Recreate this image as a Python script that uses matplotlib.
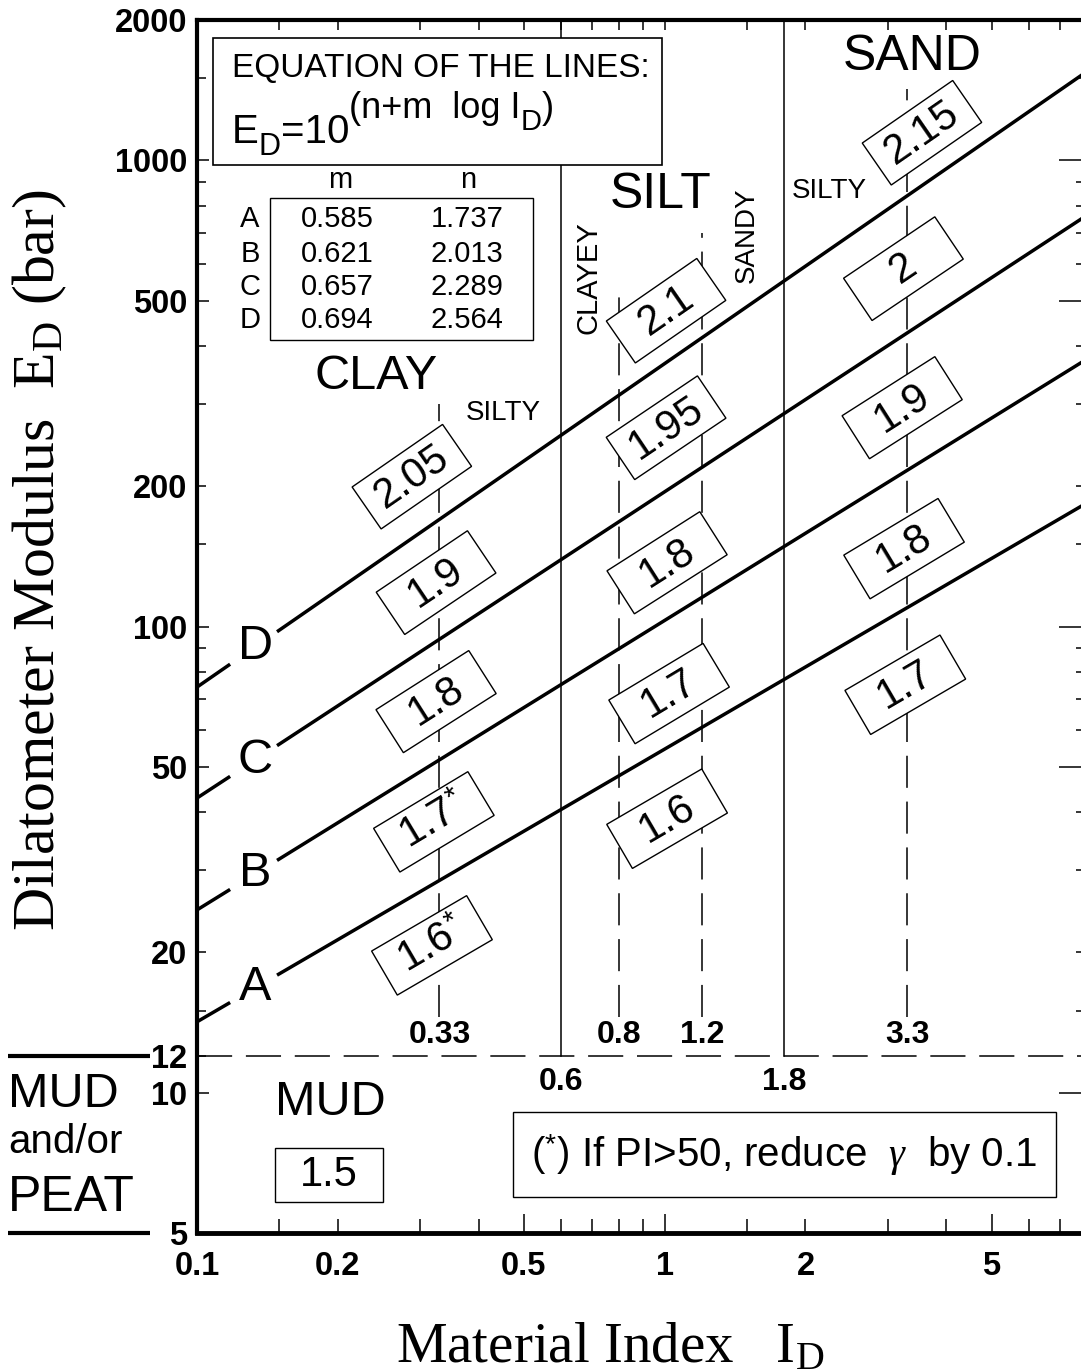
import numpy as np
import matplotlib
matplotlib.use('Agg')
import matplotlib.pyplot as plt
from matplotlib import transforms
from matplotlib.patches import Rectangle
from matplotlib.lines import Line2D

plt.rcParams['font.family'] = ['Liberation Sans', 'DejaVu Sans']
plt.rcParams['mathtext.fontset'] = 'custom'
plt.rcParams['mathtext.rm'] = 'Liberation Sans'
plt.rcParams['mathtext.it'] = 'Liberation Serif:italic'
plt.rcParams['mathtext.bf'] = 'Liberation Sans:bold'

# ---------------- data ----------------
line_names = ['A', 'B', 'C', 'D']
m_coef = [0.585, 0.621, 0.657, 0.694]
n_coef = [1.737, 2.013, 2.289, 2.564]

x_limits = (0.1, 8.0)
y_limits = (5, 2000)
x_major_ticks = [0.1, 0.5, 1, 5]
x_major_labels = ['0.1', '0.5', '1', '5']
x_minor_ticks = [0.15, 0.2, 0.3, 0.4, 0.6, 0.7, 0.8, 0.9, 1.5, 2, 3, 4, 6, 7]
x_minor_labels = ['', '0.2', '', '', '', '', '', '', '', '2', '', '', '', '']
y_major_ticks = [5, 10, 50, 100, 500, 1000]
y_major_labels = ['5', '10', '50', '100', '500', '1000']
y_minor_ticks = [12, 15, 20, 30, 40, 60, 70, 80, 90, 150, 200, 300, 400,
                 600, 700, 800, 900, 1500, 2000]
y_minor_labels = ['12', '', '20', '', '', '', '', '', '', '', '200', '', '',
                  '', '', '', '', '', '2000']

bounds_solid = [0.6, 1.8]
bounds_solid_labels = ['0.6', '1.8']
bounds_dashed = [0.33, 0.8, 1.2, 3.3]
bounds_dashed_labels = ['0.33', '0.8', '1.2', '3.3']
bounds_dashed_top = [300, 540, 700, 1420]
mud_limit = 12

gamma_labels = [
    ['2.05', '1.9', '1.8', '1.7$^{*}$', '1.6$^{*}$'],
    ['2.1', '1.95', '1.8', '1.7', '1.6'],
    ['2.15', '2', '1.9', '1.8', '1.7'],
]
gamma_x = [
    [0.288, 0.3245, 0.3245, 0.321, 0.318],
    [1.007, 1.007, 1.012, 1.022, 1.012],
    [3.55, 3.24, 3.22, 3.25, 3.27],
]
gamma_y = [
    [209.6, 124.2, 69.0, 38.1, 20.7],
    [475.8, 266.9, 137.0, 71.8, 38.7],
    [1146, 585.6, 294.7, 146.9, 75.0],
]
gamma_mud = '1.5'

# ---------------- figure ----------------
W, H, DPI = 1081, 1372, 100
fig = plt.figure(figsize=(W / DPI, H / DPI), dpi=DPI)
ax_left_px, ax_right_px, ax_top_px, ax_bot_px = 197, 1087, 20, 1233
pos = [ax_left_px / W, 1 - ax_bot_px / H, (ax_right_px - ax_left_px) / W,
       (ax_bot_px - ax_top_px) / H]
ax = fig.add_axes(pos)
ax.set_xscale('log')
ax.set_yscale('log')
ax.set_xlim(*x_limits)
ax.set_ylim(*y_limits)

# overlay axes for top/right ticks
ax2 = fig.add_axes(pos, frameon=False)
ax2.set_xscale('log')
ax2.set_yscale('log')
ax2.set_xlim(*x_limits)
ax2.set_ylim(*y_limits)
ax2.patch.set_visible(False)

TFS = 23.5
ax.set_xticks(x_major_ticks, x_major_labels, fontsize=TFS, fontweight='bold')
ax.set_xticks(x_minor_ticks, x_minor_labels, minor=True, fontsize=TFS, fontweight='bold')
ax.set_yticks(y_major_ticks, y_major_labels, fontsize=TFS, fontweight='bold')
ax.set_yticks(y_minor_ticks, y_minor_labels, minor=True, fontsize=TFS, fontweight='bold')
ax.tick_params(axis='x', which='major', direction='in', length=14, width=1.1, pad=13,
               top=False, bottom=True)
ax.tick_params(axis='x', which='minor', direction='in', length=10, width=1.1, pad=13,
               top=False, bottom=True)
ax.tick_params(axis='y', which='major', direction='in', length=8.5, width=1.1, pad=7,
               left=True, right=False)
ax.tick_params(axis='y', which='minor', direction='in', length=6.5, width=1.1, pad=7,
               left=True, right=False)
ax.spines['left'].set_linewidth(3)
ax.spines['bottom'].set_linewidth(3.5)
ax.spines['top'].set_linewidth(3)
ax.spines['right'].set_linewidth(3)

ax2.set_xticks(x_major_ticks, [''] * len(x_major_ticks))
ax2.set_xticks(x_minor_ticks, [''] * len(x_minor_ticks), minor=True)
ax2.set_yticks(y_major_ticks, [''] * len(y_major_ticks))
ax2.set_yticks(y_minor_ticks[1:], [''] * (len(y_minor_ticks) - 1), minor=True)
ax2.tick_params(axis='x', which='both', direction='in', length=7.2, width=1.1,
                top=True, bottom=False, labeltop=False, labelbottom=False)
ax2.tick_params(axis='y', which='major', direction='in', length=20, width=1.1,
                right=True, left=False, labelright=False, labelleft=False)
ax2.tick_params(axis='y', which='minor', direction='in', length=8, width=1.1,
                right=True, left=False, labelright=False, labelleft=False)

# ---------------- boundaries ----------------
for xb, lab in zip(bounds_solid, bounds_solid_labels):
    ax.plot([xb, xb], [mud_limit, y_limits[1]], color='black', lw=1.1, zorder=2)
    ax.text(xb, 10.55, lab, ha='center', va='center', fontsize=23,
            fontweight='bold', zorder=5)
for xb, top, lab in zip(bounds_dashed, bounds_dashed_top, bounds_dashed_labels):
    ax.plot([xb, xb], [14.5, top], color='black', lw=1.1, zorder=2,
            linestyle=(0, (21, 9)))
    ax.text(xb, 13.3, lab, ha='center', va='center', fontsize=23,
            fontweight='bold', zorder=5)
ax.plot(list(x_limits), [mud_limit, mud_limit], color='black', lw=1.1, zorder=2,
        linestyle=(0, (23, 9)))

# ---------------- main lines ----------------
x_seg1 = np.array([0.1, 0.1177])
x_seg2 = np.geomspace(0.1483, x_limits[1], 50)
x_letter = 0.1331
for name, m, n in zip(line_names, m_coef, n_coef):
    for xs in (x_seg1, x_seg2):
        ax.plot(xs, 10 ** (n + m * np.log10(xs)), color='black', lw=2.5,
                solid_capstyle='butt', zorder=3, clip_on=False)
    ax.text(x_letter, 10 ** (n + m * np.log10(x_letter)), name, fontsize=35,
            ha='center', va='center', zorder=5)


def line_angle(m_val):
    p0 = ax.transData.transform((1.0, 100.0))
    p1 = ax.transData.transform((10.0, 100.0 * 10 ** m_val))
    return np.degrees(np.arctan2(p1[1] - p0[1], p1[0] - p0[0]))


row_slopes = [m_coef[3], (m_coef[2] + m_coef[3]) / 2, (m_coef[1] + m_coef[2]) / 2,
              (m_coef[0] + m_coef[1]) / 2, m_coef[0]]


def box_label(x, y, text, angle, w_px=110, h_px=51, fs=30):
    tr = transforms.Affine2D().rotate_deg(angle) + \
        transforms.ScaledTranslation(x, y, ax.transData)
    ax.add_patch(Rectangle((-w_px / 2, -h_px / 2), w_px, h_px, transform=tr,
                           fc='white', ec='black', lw=1.0, zorder=4))
    ax.text(x, y, text, rotation=angle, rotation_mode='anchor', ha='center',
            va='center', fontsize=fs, zorder=5)


for col in range(3):
    for row in range(5):
        box_label(gamma_x[col][row], gamma_y[col][row], gamma_labels[col][row],
                  line_angle(row_slopes[row]))
box_label(0.1917, 6.67, gamma_mud, 0.0, w_px=108, h_px=54, fs=30)

# ---------------- soil texts ----------------
ax.text(0.2415, 343.5, 'CLAY', fontsize=35, ha='center', va='center', zorder=5)
ax.text(0.4512, 287.4, 'SILTY', fontsize=20, ha='center', va='center', zorder=5)
ax.text(0.978, 843.6, 'SILT', fontsize=36, ha='center', va='center', zorder=5)
ax.text(0.686, 560, 'CLAYEY', fontsize=21, rotation=90, ha='center', va='center', zorder=5)
ax.text(1.501, 692, 'SANDY', fontsize=20, rotation=90, ha='center', va='center', zorder=5)
ax.text(2.248, 860, 'SILTY', fontsize=20, ha='center', va='center', zorder=5)
ax.text(3.383, 1668, 'SAND', fontsize=36, ha='center', va='center', zorder=5)
ax.text(0.1925, 9.51, 'MUD', fontsize=35, ha='center', va='center', zorder=5)

# note box
tr_note = transforms.ScaledTranslation(1.797, 7.34, ax.transData)
ax.add_patch(Rectangle((-271, -42), 543, 85, transform=tr_note, fc='white',
                       ec='black', lw=1.0, zorder=4))
ax.text(1.797, 7.34, r'($^{*}$) If PI>50, reduce  $\gamma$  by 0.1', fontsize=29,
        ha='center', va='center', zorder=5)

# ---------------- equation box ----------------
ax.add_patch(Rectangle((0.1082, 979), 0.9878 - 0.1082, 1832 - 979, fc='white',
                       ec='black', lw=1.2, zorder=6))
ax.text(0.1188, 1511, 'EQUATION OF THE LINES:', fontsize=24, ha='left',
        va='baseline', zorder=7)
renderer = fig.canvas.get_renderer()
pieces = [('E', 29, 0), ('D', 22, -9), ('=10', 29, 0), ('(n+m  log I', 26, 18),
          ('D', 21, 9), (')', 26, 18)]
dx = 0.0
for s, fs, dy in pieces:
    trp = transforms.offset_copy(ax.transData, fig=fig, x=dx, y=dy, units='points')
    t = ax.text(0.1188, 1090, s, fontsize=fs, transform=trp, ha='left',
                va='baseline', zorder=7)
    dx += t.get_window_extent(renderer).width * 72 / fig.dpi

# table of coefficients
ax.add_patch(Rectangle((0.1433, 412), 0.5232 - 0.1433, 831 - 412, fc='white',
                       ec='black', lw=1.0, zorder=6))
ax.text(0.2022, 873, 'm', fontsize=21, ha='center', va='baseline', zorder=7)
ax.text(0.3799, 873, 'n', fontsize=21, ha='center', va='baseline', zorder=7)
row_base = [720.4, 606, 514.8, 437.5]
for name, m, n, yb in zip(line_names, m_coef, n_coef, row_base):
    ax.text(0.1298, yb, name, fontsize=21, ha='center', va='baseline', zorder=7)
    ax.text(0.1993, yb, f'{m:.3f}', fontsize=21, ha='center', va='baseline', zorder=7)
    ax.text(0.3784, yb, f'{n:.3f}', fontsize=21, ha='center', va='baseline', zorder=7)

# ---------------- outside annotations ----------------
bt = transforms.blended_transform_factory(fig.transFigure, ax.transData)
for yv in (mud_limit, y_limits[0]):
    fig.add_artist(Line2D([8 / W, 150 / W], [yv, yv], transform=bt, color='black',
                          lw=3, solid_capstyle='butt'))
fig.text(8 / W, 9.9, 'MUD', transform=bt, fontsize=35, ha='left', va='center')
fig.text(8 / W, 7.85, 'and/or', transform=bt, fontsize=29, ha='left', va='center')
fig.text(8 / W, 5.95, 'PEAT', transform=bt, fontsize=36, ha='left', va='center')

fig.text(40 / W, 1 - 560 / H, r'Dilatometer Modulus  $\mathregular{E_D}$ (bar)',
         family=['Liberation Serif', 'DejaVu Serif'], fontsize=43, rotation=90,
         ha='center', va='center')
fig.text(610 / W, 1 - 1362 / H, r'Material Index   $\mathregular{I_D}$',
         family=['Liberation Serif', 'DejaVu Serif'], fontsize=41,
         ha='center', va='baseline')

fig.savefig('out.png', dpi=DPI)
